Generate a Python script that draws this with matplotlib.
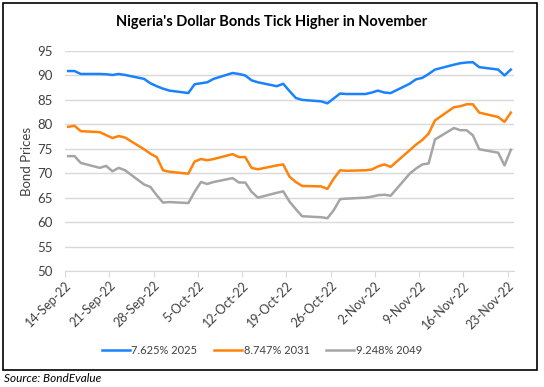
import matplotlib
matplotlib.use("Agg")
import matplotlib.pyplot as plt
import matplotlib.dates as mdates
from matplotlib.ticker import FuncFormatter
from matplotlib.patches import Rectangle
import pandas as pd

plt.rcParams['font.family'] = ['Lato', 'DejaVu Sans']

dates = pd.to_datetime([
    "2022-09-14", "2022-09-15", "2022-09-16", "2022-09-19", "2022-09-20", "2022-09-21",
    "2022-09-22", "2022-09-23", "2022-09-26", "2022-09-27", "2022-09-28", "2022-09-29",
    "2022-09-30", "2022-10-03", "2022-10-04", "2022-10-05", "2022-10-06", "2022-10-07",
    "2022-10-10", "2022-10-11", "2022-10-12", "2022-10-13", "2022-10-14", "2022-10-17",
    "2022-10-18", "2022-10-19", "2022-10-20", "2022-10-21", "2022-10-24", "2022-10-25",
    "2022-10-26", "2022-10-27", "2022-10-28", "2022-10-31", "2022-11-01", "2022-11-02",
    "2022-11-03", "2022-11-04", "2022-11-07", "2022-11-08", "2022-11-09", "2022-11-10",
    "2022-11-11", "2022-11-14", "2022-11-15", "2022-11-16", "2022-11-17", "2022-11-18",
    "2022-11-21", "2022-11-22", "2022-11-23",
])

bond_2025 = [90.9, 90.9, 90.3, 90.3, 90.25, 90.1, 90.3, 90.1, 89.3, 88.4, 87.8, 87.3,
             86.9, 86.4, 88.2, 88.4, 88.6, 89.3, 90.5, 90.3, 90.0, 89.0, 88.6, 87.8,
             88.3, 86.8, 85.4, 85.0, 84.7, 84.3, 85.3, 86.3, 86.2, 86.2, 86.5, 86.9,
             86.5, 86.4, 88.3, 89.2, 89.5, 90.3, 91.2, 92.2, 92.5, 92.65, 92.7, 91.7,
             91.2, 90.0, 91.2]
bond_2031 = [79.5, 79.7, 78.6, 78.4, 77.8, 77.2, 77.6, 77.3, 74.9, 74.0, 73.3, 70.6,
             70.3, 69.9, 72.4, 72.9, 72.65, 72.9, 73.9, 73.3, 73.3, 71.1, 70.8, 71.6,
             71.8, 69.3, 68.2, 67.4, 67.3, 66.8, 68.9, 70.6, 70.5, 70.6, 70.75, 71.4,
             71.8, 71.3, 74.7, 75.85, 76.8, 78.1, 80.8, 83.5, 83.7, 84.1, 84.1, 82.4,
             81.5, 80.5, 82.4]
bond_2049 = [73.5, 73.5, 72.1, 71.1, 71.5, 70.4, 71.1, 70.6, 67.7, 67.2, 65.5, 64.0,
             64.1, 63.9, 66.2, 68.2, 67.8, 68.2, 69.0, 68.1, 68.1, 66.2, 65.0, 66.0,
             66.3, 64.2, 62.65, 61.2, 61.0, 60.8, 62.45, 64.7, 64.8, 65.0, 65.2, 65.5,
             65.6, 65.4, 69.9, 70.95, 71.8, 72.0, 76.9, 79.25, 78.8, 78.8, 77.75, 74.9,
             74.2, 71.6, 74.8]

series_names = ["7.625% 2025", "8.747% 2031", "9.248% 2049"]
colors = ["#1a82ff", "#ff820a", "#a5a5a5"]

fig = plt.figure(figsize=(5.44, 3.87), dpi=100)
ax = fig.add_axes([65 / 544, 1 - 271 / 387, 449 / 544, 220 / 387])

# Excel date axis: points sit in the middle of each day
x = dates + pd.Timedelta(hours=12)
for vals, name, c in zip([bond_2025, bond_2031, bond_2049], series_names, colors):
    ax.plot(x, vals, color=c, lw=1.8, label=name, solid_joinstyle='round')

ax.set_xlim(pd.Timestamp("2022-09-14"), pd.Timestamp("2022-11-24"))
ax.set_ylim(50, 95)
ax.set_yticks(range(50, 96, 5))
ax.grid(axis='y', color='#d9d9d9', lw=1)
ax.set_axisbelow(True)

ax.set_xticks(pd.date_range("2022-09-14", "2022-11-23", freq="7D"))
ax.xaxis.set_major_formatter(FuncFormatter(
    lambda v, p: f"{mdates.num2date(v).day}-{mdates.num2date(v):%b-%y}"))
plt.setp(ax.get_xticklabels(), rotation=45, ha='right', rotation_mode='anchor')

for s in ['top', 'right', 'left']:
    ax.spines[s].set_visible(False)
ax.spines['bottom'].set_color('#d9d9d9')
ax.tick_params(axis='x', colors='#d9d9d9', length=4, labelcolor='#404040', labelsize=9, pad=2)
ax.tick_params(axis='y', length=0, labelcolor='#404040', labelsize=9.5, pad=9)
ax.set_ylabel("Bond Prices", fontsize=9.5, color='#404040', labelpad=3)

fig.suptitle("Nigeria's Dollar Bonds Tick Higher in November", y=1 - 22 / 387,
             fontsize=10.5, fontweight='bold', va='center')

fig.legend(loc='center', bbox_to_anchor=(262 / 544, 1 - 350 / 387), ncol=3, frameon=False,
           fontsize=8, handlelength=2.5, handletextpad=0.15, columnspacing=1.5,
           labelcolor='#404040')

fig.patches.append(Rectangle((3 / 544, 1 - 370 / 387), 534 / 544, 367 / 387,
                             transform=fig.transFigure, fill=False, ec='black', lw=1.2))
fig.text(4 / 544, 1 - 379 / 387, "Source: BondEvalue", fontsize=8.5, style='italic',
         va='center', ha='left')

fig.savefig("out.png", dpi=100)
